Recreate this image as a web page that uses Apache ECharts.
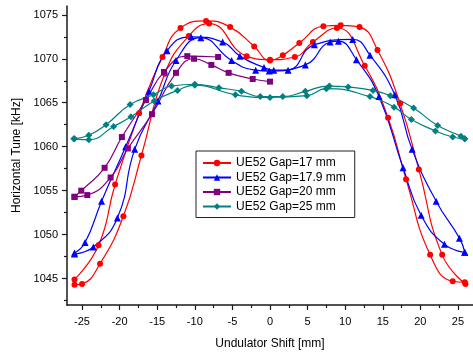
<!DOCTYPE html>
<html>
<head>
<meta charset="utf-8">
<script src="https://cdn.jsdelivr.net/npm/echarts@6/dist/echarts.min.js"></script>
<style>
  html, body { margin: 0; padding: 0; background: #fff; }
  #chart { width: 473px; height: 355px; }
</style>
</head>
<body>
<div id="chart"></div>
<script>
// Gap = 17 mm, two sweeps
const gap17aShift = [-26.0, -22.8, -20.6, -17.4, -14.3, -11.9, -8.5, -5.3, -2.1, 0.0, 1.7, 3.9, 7.1, 9.4, 11.9, 14.3, 17.3, 19.8, 22.9, 26.0];
const gap17aTune  = [1044.9, 1048.8, 1055.7, 1063.8, 1070.2, 1073.5, 1074.3, 1073.6, 1071.4, 1069.8, 1070.4, 1071.8, 1073.7, 1073.8, 1073.6, 1071.0, 1064.9, 1057.4, 1047.7, 1044.4];
const gap17bShift = [-26.0, -25.0, -22.6, -19.5, -17.1, -14.0, -10.8, -8.1, -3.1, 0.0, 3.3, 5.7, 8.9, 12.6, 15.7, 18.1, 21.3, 24.3, 25.9];
const gap17bTune  = [1044.3, 1044.4, 1046.7, 1052.1, 1059.0, 1068.3, 1072.6, 1074.0, 1070.3, 1069.9, 1070.2, 1071.9, 1073.5, 1069.2, 1063.3, 1056.3, 1047.7, 1044.7, 1044.6];

// Gap = 17.9 mm
const gap179aShift = [-26.0, -24.6, -22.4, -19.2, -16.1, -13.7, -10.5, -6.3, -4.0, -0.8, 0.5, 4.7, 8.0, 9.1, 11.5, 14.5, 17.7, 20.1, 23.2, 25.9];
const gap179aTune  = [1047.9, 1049.1, 1053.8, 1060.0, 1066.3, 1070.9, 1072.5, 1071.9, 1070.3, 1069.0, 1068.7, 1069.3, 1071.9, 1072.0, 1069.9, 1065.7, 1057.6, 1052.2, 1048.9, 1048.0];
const gap179bShift = [-26.0, -23.5, -20.3, -18.0, -14.9, -12.5, -9.2, -5.1, -1.9, -0.1, 2.4, 5.9, 11.0, 13.3, 16.6, 18.9, 22.1, 25.2, 25.9];
const gap179bTune  = [1047.8, 1048.6, 1051.9, 1059.7, 1065.2, 1069.8, 1072.4, 1069.8, 1068.7, 1068.6, 1068.7, 1071.6, 1072.2, 1070.4, 1065.9, 1059.7, 1053.8, 1049.6, 1048.0];

// Gap = 20 mm (only negative shifts)
const gap20aShift = [-26.0, -25.1, -22.0, -19.7, -16.5, -14.1, -11.0, -6.9];
const gap20aTune  = [1054.3, 1055.0, 1057.6, 1061.1, 1065.3, 1068.5, 1070.3, 1070.2];
const gap20bShift = [-26.0, -24.3, -21.2, -18.9, -15.7, -12.5, -10.1, -7.8, -5.5, -2.3, 0.0];
const gap20bTune  = [1054.3, 1054.5, 1056.5, 1059.8, 1063.7, 1068.4, 1070.0, 1069.3, 1068.4, 1067.7, 1067.4];

// Gap = 25 mm
const gap25aShift = [-26.1, -24.1, -21.8, -18.6, -15.5, -13.1, -10.0, -6.8, -3.8, -1.3, 1.7, 4.7, 7.9, 10.4, 13.7, 16.0, 19.1, 22.3, 25.4, 25.9];
const gap25aTune  = [1060.9, 1061.3, 1062.5, 1064.8, 1065.9, 1066.9, 1067.1, 1066.7, 1066.3, 1065.7, 1065.7, 1066.3, 1066.9, 1066.8, 1066.4, 1065.8, 1064.4, 1062.4, 1061.2, 1060.9];
const gap25bShift = [-26.0, -24.1, -20.8, -18.5, -15.4, -12.3, -10.0, -4.6, 0.0, 4.9, 7.5, 13.3, 16.5, 18.8, 22.0, 24.3, 25.9];
const gap25bTune  = [1060.9, 1060.8, 1062.3, 1063.4, 1065.2, 1066.4, 1067.0, 1065.9, 1065.6, 1065.8, 1066.6, 1065.7, 1064.5, 1063.1, 1061.8, 1061.1, 1060.9];

const xMajorTicks = [-25, -20, -15, -10, -5, 0, 5, 10, 15, 20, 25];
const xMinorTicks = [-22.5, -17.5, -12.5, -7.5, -2.5, 2.5, 7.5, 12.5, 17.5, 22.5];
const yMajorTicks = [1045, 1050, 1055, 1060, 1065, 1070, 1075];
const yMinorTicks = [1042.5, 1047.5, 1052.5, 1057.5, 1062.5, 1067.5, 1072.5];

const legendNames = ['UE52 Gap=17 mm', 'UE52 Gap=17.9 mm', 'UE52 Gap=20 mm', 'UE52 Gap=25 mm'];

const zip = (xs, ys) => xs.map((x, i) => [x, ys[i]]);

const FONT = 'Liberation Sans, Arial, sans-serif';
const AXIS_COLOR = '#1a1a1a';

function branch(name, color, symbol, size, xs, ys) {
  return {
    name,
    type: 'line',
    data: zip(xs, ys),
    smooth: 0.5,
    symbol,
    symbolSize: size,
    lineStyle: { width: 1.2, color },
    itemStyle: { color },
    emphasis: { disabled: true },
    animation: false,
  };
}

const series = [
  branch(legendNames[0], '#ff0000', 'circle', 6, gap17aShift, gap17aTune),
  branch(legendNames[0], '#ff0000', 'circle', 6, gap17bShift, gap17bTune),
  branch(legendNames[1], '#0000ff', 'triangle', 7, gap179aShift, gap179aTune),
  branch(legendNames[1], '#0000ff', 'triangle', 7, gap179bShift, gap179bTune),
  branch(legendNames[2], '#800080', 'rect', 6, gap20aShift, gap20aTune),
  branch(legendNames[2], '#800080', 'rect', 6, gap20bShift, gap20bTune),
  branch(legendNames[3], '#008080', 'diamond', 7, gap25aShift, gap25aTune),
  branch(legendNames[3], '#008080', 'diamond', 7, gap25bShift, gap25bTune),
];

const chart = echarts.init(document.getElementById('chart'));

const xBase = { type: 'value', min: -27, max: 27, splitLine: { show: false } };
const yBase = { type: 'value', min: 1042, max: 1076, splitLine: { show: false } };
const plain = (v) => String(v);

chart.setOption({
  backgroundColor: '#fff',
  animation: false,
  grid: { left: 67, top: 6, bottom: 46, width: 409 },
  legend: {
    data: legendNames,
    orient: 'vertical',
    left: 196,
    top: 151,
    padding: [6, 9, 5, 6],
    itemWidth: 28,
    itemHeight: 8,
    itemGap: 2.5,
    borderColor: '#222',
    borderWidth: 1,
    backgroundColor: '#fff',
    textStyle: { fontFamily: FONT, fontSize: 12, color: '#000' },
  },
  xAxis: [
    {
      ...xBase,
      name: 'Undulator Shift [mm]',
      nameLocation: 'middle',
      nameGap: 33,
      nameTextStyle: { fontFamily: FONT, fontSize: 12, color: '#000' },
      axisLine: { onZero: false, lineStyle: { color: AXIS_COLOR, width: 1.5 } },
      axisTick: { show: true, inside: false, length: 5, customValues: xMajorTicks, lineStyle: { color: AXIS_COLOR, width: 1.2 } },
      axisLabel: { customValues: xMajorTicks, formatter: plain, margin: 11, fontFamily: FONT, fontSize: 11, color: '#000' },
    },
    {
      ...xBase,
      position: 'bottom',
      axisLine: { show: false, onZero: false },
      axisTick: { show: true, inside: false, length: 3, customValues: xMinorTicks, lineStyle: { color: AXIS_COLOR, width: 1.2 } },
      axisLabel: { show: false },
    },
  ],
  yAxis: [
    {
      ...yBase,
      name: 'Horizontal Tune [kHz]',
      nameLocation: 'middle',
      nameGap: 44,
      nameTextStyle: { fontFamily: FONT, fontSize: 12, color: '#000' },
      axisLine: { show: true, onZero: false, lineStyle: { color: AXIS_COLOR, width: 1.5 } },
      axisTick: { show: true, inside: false, length: 5, customValues: yMajorTicks, lineStyle: { color: AXIS_COLOR, width: 1.2 } },
      axisLabel: { customValues: yMajorTicks, formatter: plain, margin: 9, fontFamily: FONT, fontSize: 11, color: '#000' },
    },
    {
      ...yBase,
      position: 'left',
      axisLine: { show: false, onZero: false },
      axisTick: { show: true, inside: false, length: 3, customValues: yMinorTicks, lineStyle: { color: AXIS_COLOR, width: 1.2 } },
      axisLabel: { show: false },
    },
  ],
  series,
});
</script>
</body>
</html>
